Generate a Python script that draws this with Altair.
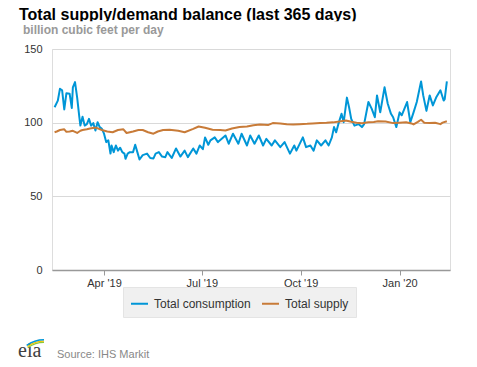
import altair as alt
import pandas as pd

START = "2019-02-13"

cons_day = [1, 4, 6, 8, 10, 12, 15, 17, 18, 20,
            22, 24, 25, 27, 29, 31, 33, 35, 37, 39,
            41, 43, 45, 47, 49, 51, 53, 54, 56, 58,
            60, 62, 64, 66, 67, 69, 71, 74, 76, 78,
            80, 83, 87, 90, 93, 95, 98, 101, 104, 106,
            110, 114, 118, 122, 125, 130, 133, 136, 139, 141,
            144, 146, 150, 153, 160, 163, 167, 172, 175, 180,
            183, 187, 191, 195, 198, 203, 206, 211, 215, 220,
            224, 226, 232, 235, 239, 242, 245, 249, 253, 256,
            259, 261, 263, 265, 268, 270, 273, 275, 277, 280,
            284, 287, 289, 293, 296, 299, 301, 304, 308, 311,
            314, 316, 319, 322, 324, 329, 332, 335, 338, 342,
            344, 347, 350, 353, 356, 360, 363, 364, 366]
cons_val = [110.5, 115, 123, 122, 109, 120, 119.6, 110, 124, 127.5,
            117, 104, 98, 104, 98, 99, 102.6, 98, 99.7, 94.7,
            100.3, 97, 95.8, 92.5, 86.8, 88, 79, 84.5, 80, 84.5,
            81, 83, 80, 79, 75.5, 79, 80, 80, 85, 80,
            75, 78, 79, 76, 75.7, 79, 80, 77, 76.6, 80,
            76, 82.5, 77, 81, 76.6, 82.5, 79, 84.5, 82, 90,
            85, 88, 90, 86.8, 91.3, 85.7, 92.5, 85.7, 92.5, 84.5,
            91.3, 85.7, 91.3, 84.5, 89, 84.5, 88, 83.4, 86.8, 79,
            84.5, 81, 90, 83.4, 84.5, 81, 88, 84.5, 88, 84.5,
            90, 97, 93.5, 99, 106, 100.3, 117, 110.5, 102.6, 98,
            99, 97, 99, 114, 109.5, 103.7, 118.5, 107, 124, 112.8,
            106, 103.7, 97, 107, 105, 114, 100.3, 107, 114, 128,
            118.5, 108, 118.5, 111.7, 117, 122, 115, 116, 128]

sup_day = [1, 3, 6, 10, 12, 15, 18, 22, 25, 27,
           31, 34, 38, 40, 45, 50, 55, 60, 65, 68,
           74, 79, 83, 88, 93, 97, 102, 108, 116, 122,
           130, 135, 141, 148, 155, 160, 166, 173, 180, 186,
           192, 200, 204, 211, 217, 223, 229, 236, 241, 248,
           254, 260, 266, 272, 278, 282, 287, 293, 298, 302,
           309, 316, 322, 328, 333, 335, 339, 342, 345, 350,
           355, 360, 362, 366]
sup_val = [93.5, 94, 95, 95.5, 93.8, 94, 94.5, 93, 94.5, 95,
           95.5, 96, 96.5, 96.5, 95, 94, 93.5, 95, 95.5, 93,
           94, 95, 95, 93.5, 92.5, 94, 95, 95.2, 94.5, 93.5,
           95.8, 97.4, 96.5, 95.2, 95, 94.7, 96, 97, 97.4, 98.3,
           98.8, 98.5, 99.7, 99.5, 99, 98.8, 99, 99.2, 99.5, 99.8,
           99.9, 100.2, 100.8, 101.5, 100.5, 99.9, 99.6, 100.3, 100.5, 101,
           100.8, 99.7, 100, 100.3, 99.5, 98.8, 100.5, 102, 100, 99.8,
           100, 99, 100, 101]

series_names = ["Total consumption", "Total supply"]
series_colors = ["#0096d7", "#c87b38"]
y_ticks = [0, 50, 100, 150]

FONT = "Liberation Sans"


def to_dates(days):
    base = pd.Timestamp(START)
    return [(base + pd.Timedelta(days=d)).strftime("%Y-%m-%d") for d in days]


df = pd.concat([
    pd.DataFrame({"date": to_dates(cons_day), "value": cons_val, "series": series_names[0]}),
    pd.DataFrame({"date": to_dates(sup_day), "value": sup_val, "series": series_names[1]}),
])

x_ticks = [
    alt.DateTime(year=2019, month=4, date=1, utc=True),
    alt.DateTime(year=2019, month=7, date=1, utc=True),
    alt.DateTime(year=2019, month=10, date=1, utc=True),
    alt.DateTime(year=2020, month=1, date=1, utc=True),
]

lines = alt.Chart(df).mark_line(strokeWidth=2, strokeJoin="round").encode(
    x=alt.X("date:T",
            scale=alt.Scale(type="utc", domain=[
                alt.DateTime(year=2019, month=2, date=11, hours=14, utc=True),
                alt.DateTime(year=2020, month=2, date=16, hours=22, utc=True)]),
            axis=alt.Axis(title=None, values=x_ticks, format="%b '%y", grid=False,
                          domainColor="#999999", domainWidth=1.5, tickColor="#999999",
                          tickSize=5, labelPadding=2, labelFontSize=11, labelColor="#333333",
                          labelFont=FONT)),
    y=alt.Y("value:Q",
            scale=alt.Scale(domain=[0, 150], nice=False, zero=True),
            axis=alt.Axis(title=None, values=y_ticks, grid=True, gridColor="#d9d9d9",
                          domain=False, ticks=False, labelPadding=10, labelFontSize=11,
                          labelColor="#333333", labelFont=FONT)),
    color=alt.Color("series:N",
                    scale=alt.Scale(domain=series_names, range=series_colors),
                    legend=alt.Legend(title=None, orient="none", legendX=71, legendY=238,
                                      direction="horizontal", fillColor="#f0f0f0",
                                      strokeColor="#e4e4e4", padding=7,
                                      symbolType="stroke", symbolSize=289,
                                      symbolStrokeWidth=2, labelFontSize=12,
                                      labelColor="#333333", labelFont=FONT,
                                      labelOffset=5, columnPadding=7)),
    order=alt.Order("date:T"),
)

one = pd.DataFrame({"k": [0]})


def label(text, x, y, size, color, weight="normal", font=FONT):
    return alt.Chart(one).mark_text(text=text, align="left", baseline="alphabetic",
                                    fontSize=size, fontWeight=weight, color=color,
                                    font=font).encode(x=alt.value(x), y=alt.value(y))


title = label("Total supply/demand balance (last 365 days)", -33, -29, 16, "#000000", "bold")
cover = alt.Chart(one).mark_rect(color="white").encode(
    x=alt.value(-40), x2=alt.value(320), y=alt.value(-27.8), y2=alt.value(-23.5))
subtitle = label("billion cubic feet per day", -29, -15, 12, "#999999", "bold")
source = label("Source: IHS Markit", 5, 308.5, 11, "#888888")
eia = label("eia", -34, 308, 20, "#404040", "normal", "Liberation Serif")

arcs = []
for r_in, r_out, col in [(26, 27.3, "#8cc63f"), (27.3, 28.6, "#f2c500"), (28.6, 30, "#0096d7")]:
    arcs.append(alt.Chart(one).mark_arc().encode(
        x=alt.value(-8), y=alt.value(320),
        theta=alt.value(5.65), theta2=alt.value(6.283),
        radius=alt.value(r_out), radius2=alt.value(r_in),
        color=alt.value(col)))

chart = alt.layer(lines, title, cover, subtitle, source, eia, *arcs).properties(
    width=398, height=221,
    autosize=alt.AutoSizeParams(type="none"),
    padding={"left": 44, "top": 41, "right": 19, "bottom": 89},
).configure_view(stroke=None).configure(font=FONT)

chart.save("out.html", embed_options={"renderer": "svg", "actions": False})
